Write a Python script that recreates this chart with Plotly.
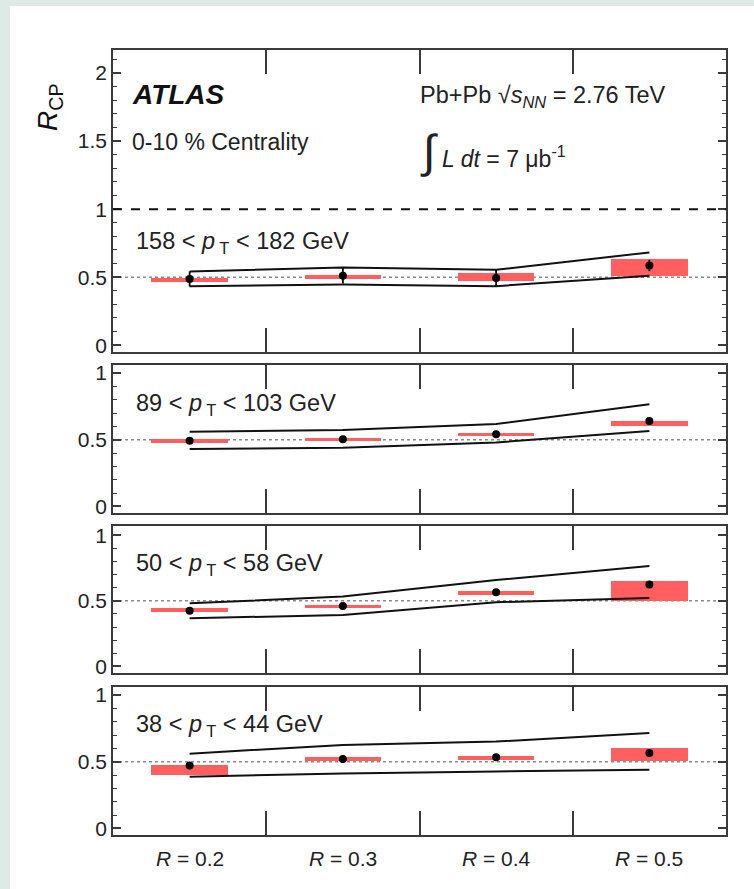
import plotly.graph_objects as go

# ---------------- data ----------------
R_LABELS = ["R = 0.2", "R = 0.3", "R = 0.4", "R = 0.5"]
R_POS = [0.5, 1.5, 2.5, 3.5]

PT_LABELS = [
    "158 < <i>p</i><sub> T</sub> < 182 GeV",
    "89 < <i>p</i><sub> T</sub> < 103 GeV",
    "50 < <i>p</i><sub> T</sub> < 58 GeV",
    "38 < <i>p</i><sub> T</sub> < 44 GeV",
]

# 158 < pT < 182 GeV
rcp_158 = [0.487, 0.511, 0.494, 0.586]
stat_158 = [0.055, 0.058, 0.059, 0.042]
sysc_158 = [0.478, 0.504, 0.502, 0.570]
sysh_158 = [0.013, 0.014, 0.028, 0.064]
thhi_158 = [0.542, 0.571, 0.554, 0.682]
thlo_158 = [0.434, 0.446, 0.434, 0.511]

# 89 < pT < 103 GeV
rcp_89 = [0.491, 0.504, 0.541, 0.640]
stat_89 = [0.010, 0.010, 0.010, 0.012]
sysc_89 = [0.488, 0.500, 0.542, 0.621]
sysh_89 = [0.016, 0.011, 0.011, 0.021]
thhi_89 = [0.560, 0.573, 0.617, 0.765]
thlo_89 = [0.430, 0.440, 0.479, 0.565]

# 50 < pT < 58 GeV
rcp_50 = [0.425, 0.461, 0.565, 0.625]
stat_50 = [0.010, 0.010, 0.010, 0.012]
sysc_50 = [0.432, 0.457, 0.559, 0.576]
sysh_50 = [0.014, 0.011, 0.013, 0.077]
thhi_50 = [0.481, 0.532, 0.658, 0.765]
thlo_50 = [0.367, 0.392, 0.489, 0.522]

# 38 < pT < 44 GeV
rcp_38 = [0.472, 0.520, 0.533, 0.565]
stat_38 = [0.010, 0.010, 0.010, 0.012]
sysc_38 = [0.439, 0.518, 0.528, 0.554]
sysh_38 = [0.036, 0.015, 0.0125, 0.049]
thhi_38 = [0.560, 0.626, 0.651, 0.716]
thlo_38 = [0.387, 0.412, 0.427, 0.440]

REF_HALF = 0.5
REF_UNITY = 1.0

panels = [
    dict(rcp=rcp_158, stat=stat_158, sc=sysc_158, sh=sysh_158, hi=thhi_158, lo=thlo_158),
    dict(rcp=rcp_89, stat=stat_89, sc=sysc_89, sh=sysh_89, hi=thhi_89, lo=thlo_89),
    dict(rcp=rcp_50, stat=stat_50, sc=sysc_50, sh=sysh_50, hi=thhi_50, lo=thlo_50),
    dict(rcp=rcp_38, stat=stat_38, sc=sysc_38, sh=sysh_38, hi=thhi_38, lo=thlo_38),
]

# ---------------- layout geometry ----------------
W, H = 754, 889
ML, MR, MT, MB = 113, 28, 50, 54
PW, PH = W - ML - MR, H - MT - MB
domains = [[0.6153, 1.0], [0.4102, 0.5987], [0.2064, 0.3936], [0.0, 0.1885]]
yranges = [[-0.05, 2.17], [-0.05, 1.06], [-0.05, 1.07], [-0.05, 1.06]]
ytickvals = [[0, 0.5, 1, 1.5, 2], [0, 0.5, 1], [0, 0.5, 1], [0, 0.5, 1]]

RED = "#ff5f5f"
FONT = "Liberation Sans, Arial, Helvetica, sans-serif"
AXC = "#3a3a3a"
TXT = "#222"

fig = go.Figure()
shapes = []
annotations = []

for i, p in enumerate(panels):
    n = i + 1
    xa = "x" if n == 1 else f"x{n}"
    ya = "y" if n == 1 else f"y{n}"
    fig.add_trace(go.Bar(
        x=R_POS, y=[2 * h for h in p["sh"]],
        base=[c - h for c, h in zip(p["sc"], p["sh"])],
        width=0.5, marker=dict(color=RED, line=dict(width=0)),
        xaxis=xa, yaxis=ya, showlegend=False, hoverinfo="skip"))
    for key in ("hi", "lo"):
        fig.add_trace(go.Scatter(
            x=R_POS, y=p[key], mode="lines",
            line=dict(color="#111", width=2),
            xaxis=xa, yaxis=ya, showlegend=False, hoverinfo="skip"))
    fig.add_trace(go.Scatter(
        x=R_POS, y=p["rcp"], mode="markers",
        marker=dict(color="black", size=8),
        error_y=dict(type="data", array=p["stat"], color="black", thickness=1.8, width=0),
        xaxis=xa, yaxis=ya, showlegend=False))
    shapes.append(dict(type="line", xref=f"{xa} domain", yref=ya, x0=0, x1=1,
                       y0=REF_HALF, y1=REF_HALF, layer="below",
                       line=dict(color="#8a8a8a", width=1.5, dash="dot")))
    annotations.append(dict(text=PT_LABELS[i], xref=f"{xa} domain", yref=f"{ya} domain",
                            x=0.035, y=[0.361, 0.73, 0.735, 0.743][i],
                            xanchor="left", yanchor="middle", showarrow=False,
                            font=dict(size=23.5, color=TXT, family=FONT)))

shapes.append(dict(type="line", xref="x domain", yref="y", x0=0, x1=1,
                   y0=REF_UNITY, y1=REF_UNITY,
                   line=dict(color="#111", width=2, dash="dash")))

shapes.insert(0, dict(type="rect", xref="paper", yref="paper", layer="below",
                      x0=(10 - ML) / PW, x1=1.2,
                      y0=-0.2, y1=(H - MB - 6) / PH,
                      fillcolor="white", line=dict(width=0)))

layout = dict(
    width=W, height=H,
    margin=dict(l=ML, r=MR, t=MT, b=MB),
    paper_bgcolor="#deeae5", plot_bgcolor="white",
    font=dict(family=FONT, size=20, color=TXT),
    bargap=0, barmode="overlay",
    shapes=shapes,
)

for i in range(4):
    n = i + 1
    xk = "xaxis" if n == 1 else f"xaxis{n}"
    yk = "yaxis" if n == 1 else f"yaxis{n}"
    layout[xk] = dict(domain=[0, 1], range=[0, 4], anchor="y" if n == 1 else f"y{n}",
                      tickvals=[1, 2, 3], ticks="inside", ticklen=24, tickwidth=1.5,
                      tickcolor=AXC, showticklabels=False, showline=True,
                      linecolor=AXC, linewidth=1.5, mirror="ticks",
                      showgrid=False, zeroline=False, fixedrange=True)
    layout[yk] = dict(domain=domains[i], range=yranges[i], anchor="x" if n == 1 else f"x{n}",
                      tickvals=ytickvals[i], ticks="inside", ticklen=8, tickwidth=1.5,
                      tickcolor=AXC, showline=True, linecolor=AXC, linewidth=1.5,
                      mirror="ticks", showgrid=False, zeroline=False, fixedrange=True,
                      tickfont=dict(size=21, color=TXT),
                      minor=dict(dtick=0.1, tick0=0, ticks="inside", ticklen=4,
                                 tickwidth=1.2, tickcolor=AXC, showgrid=False))

for xv, lab in zip(R_POS, R_LABELS):
    annotations.append(dict(text=lab.replace("R", "<i>R</i>", 1), xref="x4", yref="paper",
                            x=xv, y=(MB - 23 - MB) / PH, xanchor="center", yanchor="middle",
                            showarrow=False, font=dict(size=21, color=TXT, family=FONT)))

annotations += [
    dict(text="<b><i>ATLAS</i></b>", xref="x domain", yref="y domain", x=0.027, y=0.851,
         xanchor="left", yanchor="middle", showarrow=False,
         font=dict(size=28, color="#111", family=FONT)),
    dict(text="0-10 % Centrality", xref="x domain", yref="y domain", x=0.027, y=0.695,
         xanchor="left", yanchor="middle", showarrow=False,
         font=dict(size=23, color=TXT, family=FONT)),
    dict(text="Pb+Pb \u221a<i>s</i><sub><i>NN</i></sub> = 2.76 TeV", xref="x domain",
         yref="y domain", x=0.497, y=0.846, xanchor="left", yanchor="middle",
         showarrow=False, font=dict(size=23.5, color=TXT, family=FONT)),
    dict(text="<span style='font-size:46px'>\u222b</span> <i>L dt</i> = 7 \u03bcb<sup>-1</sup>",
         xref="x domain", yref="y domain", x=0.497, y=0.665, xanchor="left",
         yanchor="middle", showarrow=False, font=dict(size=23, color=TXT, family=FONT)),
    dict(text="<i>R</i><sub>CP</sub>", xref="paper", yref="y domain", x=(50 - ML) / PW,
         y=(352 - 108) / 302, xanchor="center", yanchor="middle", textangle=-90,
         showarrow=False, font=dict(size=28, color="#111", family=FONT)),
]
layout["annotations"] = annotations

fig.update_layout(**layout)
fig.write_html("out.html")
